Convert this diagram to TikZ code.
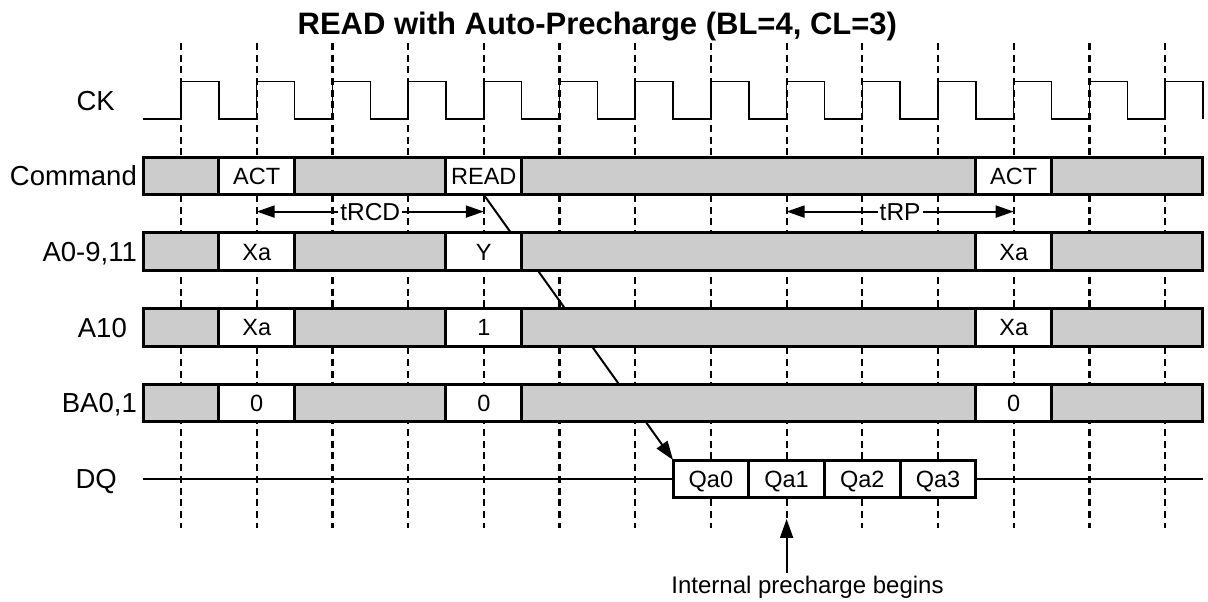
\documentclass[tikz,border=0pt]{standalone}
\usepackage{fontspec}
\setmainfont{Liberation Sans}
\usepackage{tikz}
\usetikzlibrary{arrows.meta,positioning,backgrounds}
\definecolor{cBusy}{HTML}{CCCCCC}
\newcommand{\setfs}[1]{\fontsize{#1}{#1}\selectfont}
\tikzset{
  seg/.style={draw, line width=3pt, outer sep=0pt, inner sep=0pt,
              minimum height=37.5pt, text height=16.8pt, text depth=0pt, font=\setfs{23.5}},
  busy/.style={seg, fill=cBusy},
  valid/.style={seg, fill=white},
  sig/.style={inner sep=0pt, text height=19.7pt, text depth=0pt, font=\setfs{27.5}},
  ttl/.style={inner sep=0pt, text height=22pt, text depth=0pt, font=\bfseries\setfs{31}},
  note/.style={inner sep=0pt, text height=17.2pt, text depth=0pt, font=\setfs{24}},
  clk/.style={line width=1.5pt},
  grid/.style={line width=2.2pt, dash pattern=on 7pt off 4.7pt},
  dqline/.style={line width=2pt},
  arr/.style={-{Triangle[length=19pt, width=13pt]}, line width=2pt},
  dimarr/.style={{Triangle[length=18pt, width=12pt]}-{Triangle[length=18pt, width=12pt]}, line width=2pt},
  lbl/.style={fill=white, inner xsep=2pt, inner ysep=1pt, text height=17pt, text depth=0pt, font=\setfs{24.5}}
}

\begin{document}
\begin{tikzpicture}[x=75.7pt, y=-75.7pt]
\useasboundingbox (-181pt,176pt) rectangle (1027pt,-426pt);
% Title
\node[ttl] (title) at (5.5,-2.02) {READ with Auto-Precharge (BL=4, CL=3)};
% Clock
\node[sig, anchor=east] (cklbl) at (-0.872,-1) {CK};
\draw[clk] (-0.5,-0.75) \foreach \k in {0,...,13} { -- (\k,-0.75) -- (\k,-1.25) -- (\k+0.5,-1.25) -- (\k+0.5,-0.75) };
% Bus rows: Command, addresses, bank
\foreach \key/\row/\name/\lx/\va/\vb/\vc in {cmd/0/Command/-0.581/ACT/READ/ACT,
    addr/1/{A0-9,11}/-0.581/Xa/Y/Xa, aten/2/A10/-0.713/Xa/1/Xa, bank/3/{BA0,1}/-0.581/0/0/0} {
  \node[sig, anchor=east] (\key lbl) at (\lx,\row) {\name};
  \node[busy, minimum width=75.7pt] (\key g1) at (0,\row) {};
  \node[valid, minimum width=75.7pt, right=0pt of \key g1] (\key v1) {\va};
  \node[busy, minimum width=151.4pt, right=0pt of \key v1] (\key g2) {};
  \node[valid, minimum width=75.7pt, right=0pt of \key g2] (\key v2) {\vb};
  \node[busy, minimum width=454.2pt, right=0pt of \key v2] (\key g3) {};
  \node[valid, minimum width=75.7pt, right=0pt of \key g3] (\key v3) {\vc};
  \node[busy, minimum width=151.4pt, right=0pt of \key v3] (\key g4) {};
}
% DQ burst
\node[sig, anchor=east] (dqlbl) at (-0.845,4) {DQ};
\node[valid, minimum width=75.7pt] (qa0) at (7,4) {Qa0};
\node[valid, minimum width=75.7pt, right=0pt of qa0] (qa1) {Qa1};
\node[valid, minimum width=75.7pt, right=0pt of qa1] (qa2) {Qa2};
\node[valid, minimum width=75.7pt, right=0pt of qa2] (qa3) {Qa3};
\coordinate (dqL) at (-0.5,4);
\coordinate (dqR) at (13.5,4);
\draw[dqline] (dqL) -- (qa0.west);
\draw[dqline] (qa3.east) -- (dqR);
% Timing parameters
\coordinate (rcdL) at (1,0.47); \coordinate (rcdR) at (4,0.47);
\coordinate (rpL) at (8,0.47); \coordinate (rpR) at (11,0.47);
\draw[dimarr] (rcdL) -- (rcdR) node[midway, lbl] {tRCD};
\draw[dimarr] (rpL) -- (rpR) node[midway, lbl] {tRP};
% Precharge note
\node[note] (pcnote) at (8.276,5.403) {Internal precharge begins};
\coordinate (pctip) at (8,4.531);
\draw[arr] ([yshift=3pt]pcnote.north -| pctip) -- (pctip);
% Clock grid and read latency, behind the bars
\begin{scope}[on background layer]
\foreach \k in {0,...,13} \draw[grid] (\k,-1.757) -- (\k,4.65);
\draw[arr] (cmdv2.south) -- (qa0.north west);
\end{scope}
\end{tikzpicture}
\end{document}
